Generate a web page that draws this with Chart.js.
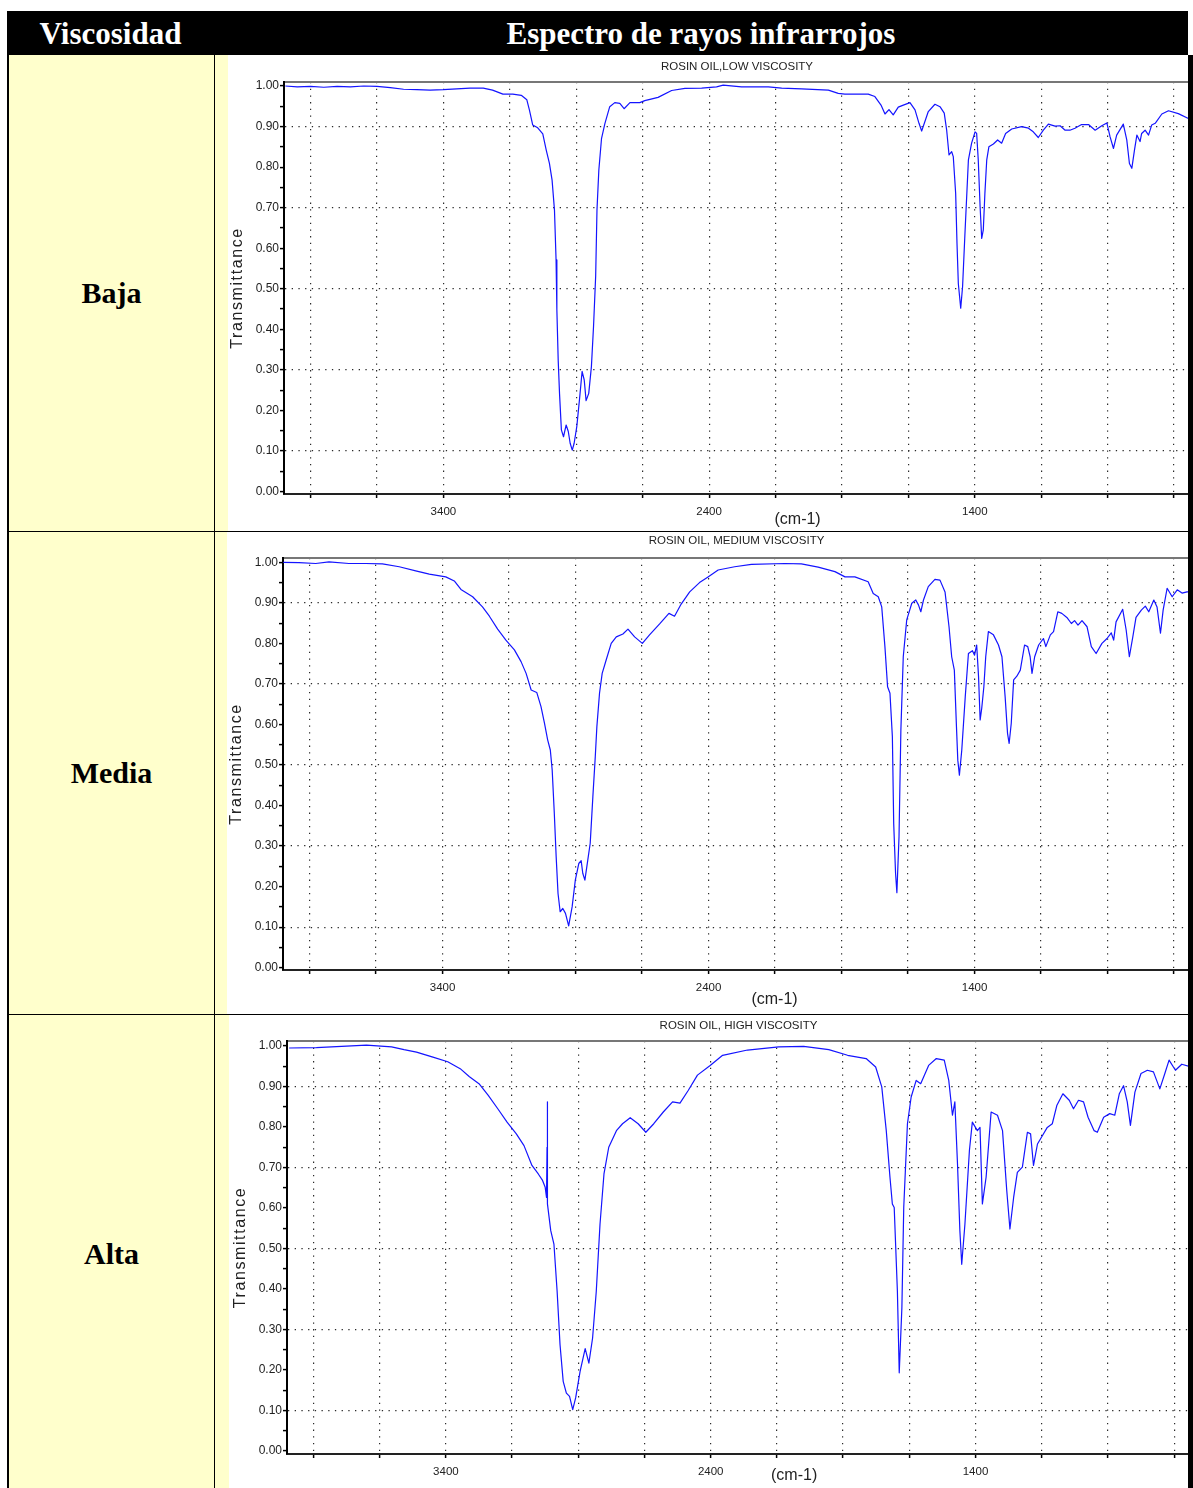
<!DOCTYPE html>
<html>
<head>
<meta charset="utf-8">
<title>Viscosidad - Espectro de rayos infrarrojos</title>
<script src="https://cdn.jsdelivr.net/npm/chart.js@4.4.1/dist/chart.umd.min.js"></script>
<style>
  body { margin: 0; background: #fff; }
  #page { position: relative; width: 1193px; height: 1488px; overflow: hidden; }
  .blk { position: absolute; background: #000; }
  .yel { position: absolute; background: #ffffcc; }
  .hd { position: absolute; top: 11px; height: 44px; color: #fff; text-align: center; overflow: hidden;
        font: bold 31px 'Liberation Serif', 'Times New Roman', serif; line-height: 45px; }
  .row { position: absolute; left: 9px; width: 205px; text-align: center; color: #000;
         font: bold 30px 'Liberation Serif', 'Times New Roman', serif; }
  canvas { position: absolute; background: #fff; }
</style>
</head>
<body>
<div id="page">
  <div class="yel" style="left:9px;top:55px;width:205px;height:1433px"></div>
  <div class="yel" style="left:215px;top:55px;width:973px;height:1433px"></div>

  <canvas id="low" width="962" height="476" style="left:228px;top:55px"></canvas>
  <canvas id="med" width="963" height="482" style="left:227px;top:532px"></canvas>
  <canvas id="high" width="961" height="473" style="left:229px;top:1015px"></canvas>

  <div class="blk" style="left:7px;top:11px;width:1181px;height:44px"></div>
  <div class="hd" style="left:7px;width:207px">Viscosidad</div>
  <div class="hd" style="left:214px;width:974px">Espectro de rayos infrarrojos</div>

  <div class="blk" style="left:7px;top:11px;width:2px;height:1477px"></div>
  <div class="blk" style="left:214px;top:55px;width:1px;height:1433px"></div>
  <div class="blk" style="left:7px;top:531px;width:1181px;height:1px"></div>
  <div class="blk" style="left:7px;top:1014px;width:1181px;height:1px"></div>
  <div class="blk" style="left:1188px;top:55px;width:5px;height:1433px"></div>

  <div class="row" style="top:55px;height:476px;line-height:476px">Baja</div>
  <div class="row" style="top:531px;height:483px;line-height:483px">Media</div>
  <div class="row" style="top:1014px;height:474px;line-height:480px">Alta</div>
</div>

<script>
// wavenumber axis (cm-1), drawn high to low
const xTicks = [3900, 3650, 3400, 3150, 2900, 2650, 2400, 2150, 1900, 1650, 1400, 1150, 900, 650];
const xLabels = [3400, 2400, 1400];
const yTicks = [0, 0.05, 0.1, 0.15, 0.2, 0.25, 0.3, 0.35, 0.4, 0.45, 0.5,
                0.55, 0.6, 0.65, 0.7, 0.75, 0.8, 0.85, 0.9, 0.95, 1.0];
const yGrid = [0.1, 0.3, 0.5, 0.7, 0.9];

// low viscosity
const lowWn = [3995, 3950, 3900, 3850, 3800, 3750, 3700, 3650, 3600, 3550, 3500, 3450, 3400, 3350, 3300, 3250,
  3215, 3176, 3139, 3107, 3086, 3076, 3064, 3045, 3026, 3013, 3001, 2991, 2982, 2976, 2973, 2968, 2963,
  2956, 2948, 2938, 2930, 2923, 2915, 2908, 2898, 2888, 2878, 2870, 2863, 2853, 2843, 2835, 2827, 2822,
  2815, 2805, 2792, 2774, 2755, 2736, 2720, 2698, 2661, 2642, 2592, 2541, 2491, 2428, 2372, 2347, 2278,
  2177, 2127, 2052, 1951, 1914, 1889, 1801, 1776, 1753, 1738, 1723, 1707, 1688, 1669, 1644, 1625, 1610,
  1600, 1590, 1575, 1550, 1531, 1515, 1506, 1497, 1487, 1481, 1472, 1467, 1462, 1453, 1446, 1437, 1424,
  1412, 1399, 1393, 1387, 1380, 1374, 1368, 1362, 1355, 1347, 1330, 1314, 1299, 1284, 1261, 1224, 1198,
  1180, 1161, 1142, 1123, 1098, 1079, 1060, 1042, 1023, 998, 972, 947, 922, 903, 891, 878, 866, 841, 828,
  818, 809, 799, 790, 778, 772, 759, 746, 734, 721, 696, 671, 634, 596, 577];
const lowT = [1.000, 0.998, 0.999, 0.997, 0.999, 0.998, 1.000, 0.999, 0.996, 0.992, 0.991, 0.990, 0.991, 0.993, 0.995, 0.995,
  0.990, 0.980, 0.980, 0.977, 0.966, 0.940, 0.904, 0.897, 0.882, 0.842, 0.809, 0.768, 0.694, 0.571, 0.448, 0.324, 0.242,
  0.152, 0.135, 0.164, 0.148, 0.119, 0.102, 0.119, 0.160, 0.226, 0.296, 0.275, 0.224, 0.242, 0.308, 0.407, 0.530, 0.694,
  0.793, 0.870, 0.908, 0.949, 0.959, 0.957, 0.944, 0.959, 0.959, 0.964, 0.972, 0.989, 0.994, 0.995, 0.998, 1.002, 0.998,
  0.998, 0.995, 0.993, 0.990, 0.982, 0.980, 0.980, 0.974, 0.953, 0.931, 0.942, 0.929, 0.948, 0.953, 0.959, 0.941, 0.908,
  0.889, 0.908, 0.937, 0.955, 0.949, 0.933, 0.892, 0.830, 0.838, 0.826, 0.735, 0.612, 0.513, 0.452, 0.505, 0.637, 0.818,
  0.859, 0.887, 0.883, 0.818, 0.702, 0.624, 0.645, 0.735, 0.818, 0.850, 0.857, 0.867, 0.859, 0.883, 0.894, 0.900, 0.896,
  0.887, 0.873, 0.891, 0.906, 0.901, 0.902, 0.891, 0.891, 0.896, 0.905, 0.905, 0.891, 0.902, 0.909, 0.875, 0.846, 0.879, 0.906, 0.867,
  0.809, 0.797, 0.842, 0.879, 0.863, 0.883, 0.891, 0.879, 0.904, 0.908, 0.931, 0.939, 0.932, 0.920, 0.915];

// medium viscosity
const medWn = [3999, 3940, 3877, 3827, 3752, 3689, 3626, 3563, 3501, 3450, 3388, 3356, 3331, 3287, 3250, 3224,
  3193, 3162, 3130, 3105, 3086, 3067, 3046, 3030, 3017, 3005, 2995, 2988, 2980, 2973, 2966, 2958, 2948,
  2938, 2926, 2913, 2901, 2888, 2879, 2873, 2865, 2854, 2845, 2835, 2826, 2820, 2810, 2800, 2785, 2766,
  2747, 2722, 2703, 2678, 2649, 2622, 2584, 2549, 2528, 2503, 2471, 2434, 2402, 2364, 2302, 2239, 2113,
  2051, 1988, 1925, 1887, 1850, 1800, 1781, 1762, 1749, 1737, 1727, 1718, 1709, 1704, 1697, 1692, 1684,
  1677, 1668, 1655, 1636, 1621, 1611, 1602, 1592, 1574, 1549, 1530, 1511, 1496, 1486, 1476, 1468, 1463,
  1457, 1448, 1435, 1423, 1408, 1400, 1392, 1385, 1379, 1373, 1365, 1358, 1348, 1329, 1310, 1297, 1285,
  1276, 1270, 1262, 1253, 1241, 1228, 1212, 1200, 1191, 1184, 1174, 1159, 1141, 1132, 1115, 1103, 1087,
  1072, 1053, 1036, 1024, 1011, 996, 977, 961, 943, 921, 902, 886, 877, 868, 843, 830, 818, 805, 793,
  773, 758, 745, 726, 714, 701, 691, 676, 657, 638, 620, 601, 576];
const medT = [1.000, 0.999, 0.997, 1.001, 0.997, 0.997, 0.996, 0.989, 0.979, 0.971, 0.964, 0.954, 0.933, 0.915, 0.890, 0.867,
  0.835, 0.808, 0.784, 0.755, 0.726, 0.685, 0.679, 0.644, 0.603, 0.562, 0.537, 0.488, 0.381, 0.274, 0.183, 0.138, 0.146,
  0.134, 0.103, 0.150, 0.216, 0.257, 0.264, 0.233, 0.216, 0.266, 0.307, 0.422, 0.520, 0.594, 0.677, 0.726, 0.759, 0.800,
  0.816, 0.823, 0.835, 0.816, 0.800, 0.821, 0.848, 0.874, 0.867, 0.897, 0.927, 0.950, 0.964, 0.981, 0.989, 0.995, 0.997,
  0.996, 0.988, 0.977, 0.964, 0.964, 0.952, 0.923, 0.915, 0.890, 0.792, 0.693, 0.677, 0.570, 0.356, 0.233, 0.185, 0.323,
  0.586, 0.767, 0.858, 0.899, 0.907, 0.895, 0.878, 0.907, 0.940, 0.958, 0.956, 0.927, 0.841, 0.767, 0.734, 0.594, 0.512,
  0.475, 0.537, 0.668, 0.775, 0.782, 0.771, 0.796, 0.718, 0.611, 0.640, 0.693, 0.767, 0.829, 0.821, 0.796, 0.767, 0.668,
  0.578, 0.553, 0.603, 0.710, 0.719, 0.734, 0.796, 0.792, 0.767, 0.726, 0.767, 0.796, 0.812, 0.792, 0.821, 0.829, 0.878,
  0.874, 0.864, 0.849, 0.856, 0.845, 0.856, 0.841, 0.792, 0.775, 0.800, 0.812, 0.826, 0.808, 0.853, 0.884, 0.833, 0.767, 0.816, 0.864,
  0.882, 0.892, 0.878, 0.907, 0.890, 0.825, 0.882, 0.936, 0.915, 0.932, 0.924, 0.927, 0.927];

// high viscosity
const highWn = [3992, 3889, 3794, 3700, 3605, 3558, 3511, 3452, 3393, 3346, 3311, 3275, 3240, 3204, 3169, 3134,
  3105, 3075, 3051, 3035, 3025, 3020, 3018, 3017, 3016, 3004, 2992, 2980, 2969, 2957, 2945, 2933, 2921,
  2910, 2893, 2874, 2860, 2846, 2832, 2818, 2803, 2785, 2756, 2733, 2704, 2674, 2645, 2615, 2579, 2544,
  2516, 2485, 2450, 2402, 2355, 2261, 2143, 2049, 1954, 1883, 1813, 1777, 1754, 1737, 1723, 1714, 1707,
  1695, 1688, 1678, 1671, 1657, 1643, 1624, 1607, 1577, 1548, 1518, 1501, 1487, 1478, 1468, 1459, 1452,
  1440, 1423, 1412, 1393, 1383, 1374, 1360, 1341, 1317, 1298, 1282, 1270, 1256, 1242, 1223, 1204, 1192,
  1181, 1166, 1147, 1129, 1110, 1093, 1070, 1046, 1030, 1011, 992, 975, 952, 940, 916, 893, 874, 857,
  841, 827, 815, 798, 775, 751, 728, 716, 704, 685, 669, 645, 621, 586];
const highT = [0.995, 0.996, 0.999, 1.002, 0.998, 0.991, 0.985, 0.973, 0.961, 0.944, 0.924, 0.907, 0.878, 0.845, 0.812, 0.783,
  0.754, 0.705, 0.684, 0.668, 0.651, 0.626, 0.750, 0.862, 0.610, 0.544, 0.511, 0.395, 0.263, 0.172, 0.143, 0.135, 0.102,
  0.131, 0.197, 0.253, 0.217, 0.279, 0.395, 0.560, 0.684, 0.750, 0.791, 0.808, 0.823, 0.808, 0.787, 0.808, 0.837, 0.862,
  0.859, 0.890, 0.928, 0.952, 0.977, 0.990, 0.998, 0.999, 0.991, 0.977, 0.969, 0.948, 0.899, 0.791, 0.676, 0.610, 0.601,
  0.395, 0.193, 0.354, 0.601, 0.808, 0.874, 0.915, 0.907, 0.952, 0.969, 0.965, 0.915, 0.829, 0.862, 0.709, 0.544, 0.461,
  0.560, 0.742, 0.812, 0.791, 0.799, 0.610, 0.676, 0.837, 0.829, 0.791, 0.643, 0.548, 0.626, 0.688, 0.701, 0.787, 0.783,
  0.705, 0.758, 0.779, 0.799, 0.808, 0.853, 0.882, 0.866, 0.845, 0.866, 0.862, 0.824, 0.791, 0.787, 0.824, 0.833, 0.829, 0.882,
  0.902, 0.862, 0.804, 0.886, 0.932, 0.940, 0.936, 0.915, 0.894, 0.932, 0.965, 0.940, 0.955, 0.948];

const sans = "'Liberation Sans', Arial, Helvetica, sans-serif";
const lineColor = '#1414ff';
const dotColor = '#2a2a2a';
const dots = [1.3, 5.4];

// rotated y title and the unit under the x axis
const axisLabels = {
  id: 'axisLabels',
  afterDraw(chart, args, o) {
    const { ctx, chartArea, scales } = chart;
    ctx.save();
    ctx.fillStyle = '#222';
    ctx.font = '16px ' + sans;
    ctx.textAlign = 'center';
    ctx.textBaseline = 'middle';
    ctx.letterSpacing = '1.6px';
    ctx.translate(o.titleX, (chartArea.top + chartArea.bottom) / 2);
    ctx.rotate(-Math.PI / 2);
    ctx.fillText('Transmittance', 0, 0);
    ctx.restore();

    ctx.save();
    ctx.fillStyle = '#222';
    ctx.font = '16px ' + sans;
    ctx.textAlign = 'center';
    ctx.textBaseline = 'middle';
    ctx.fillText('(cm-1)', scales.x.getPixelForValue(o.unitAt), chartArea.bottom + o.unitDy);
    ctx.restore();
  }
};

const isGrid = v => yGrid.some(g => Math.abs(g - v) < 1e-6);

function makeChart(id, title, wn, t, opt) {
  const points = wn.map((x, i) => ({ x: x, y: t[i] }));
  return new Chart(document.getElementById(id), {
    type: 'line',
    data: {
      datasets: [{
        data: points,
        borderColor: lineColor,
        borderWidth: 1.2,
        borderJoinStyle: 'round',
        pointRadius: 0,
        tension: 0,
        fill: false
      }]
    },
    options: {
      responsive: false,
      animation: false,
      devicePixelRatio: 1,
      layout: { padding: 0 },
      plugins: {
        legend: { display: false },
        tooltip: { enabled: false },
        title: {
          display: true,
          text: title,
          fullSize: false,
          color: '#222',
          font: { family: sans, size: 11.5, weight: 'normal', lineHeight: 1.2 },
          padding: { top: opt.titleTop, bottom: opt.titleBottom }
        },
        axisLabels: { unitAt: opt.unitAt, unitDy: opt.unitDy, titleX: opt.titleX }
      },
      scales: {
        x: {
          type: 'linear',
          reverse: true,
          min: 590,
          max: 4000,
          afterBuildTicks: s => { s.ticks = xTicks.map(v => ({ value: v })); },
          afterFit: s => { s.height = opt.xAxisH; s.paddingLeft = 0; s.paddingRight = 0; },
          ticks: {
            autoSkip: false,
            maxRotation: 0,
            padding: 7,
            color: '#222',
            font: { family: sans, size: 11.5 },
            callback: v => xLabels.includes(v) ? String(v) : ''
          },
          grid: { color: dotColor, lineWidth: 1.2, tickColor: '#000', tickLength: 4, tickWidth: 1.5 },
          border: { color: '#222', width: 2, dash: dots }
        },
        x2: {
          type: 'linear',
          position: 'top',
          reverse: true,
          min: 590,
          max: 4000,
          ticks: { display: false },
          grid: { display: false, drawTicks: false },
          border: { color: '#777', width: 2 },
          afterFit: s => { s.height = 0; }
        },
        y: {
          min: opt.yMin,
          max: opt.yMax,
          afterBuildTicks: s => { s.ticks = yTicks.map(v => ({ value: v })); },
          afterFit: s => { s.width = opt.yAxisW; s.paddingTop = 0; s.paddingBottom = 0; },
          ticks: {
            padding: 1,
            color: '#222',
            font: { family: sans, size: 12 },
            callback: v => Math.abs(v * 10 - Math.round(v * 10)) < 1e-6 ? v.toFixed(2) : ''
          },
          grid: {
            color: c => isGrid(c.tick.value) ? dotColor : 'rgba(0,0,0,0)',
            lineWidth: 1.2,
            tickColor: '#000',
            tickLength: 4,
            tickWidth: 1.5
          },
          border: { color: '#000', width: 2, dash: dots }
        }
      }
    },
    plugins: [axisLabels]
  });
}

makeChart('low', 'ROSIN OIL,LOW VISCOSITY', lowWn, lowT,
  { titleTop: 4.7, titleBottom: 8.5, xAxisH: 37, yAxisW: 56, titleX: 10,
    yMin: -0.0062, yMax: 1.0099, unitAt: 2067, unitDy: 26 });
makeChart('med', 'ROSIN OIL, MEDIUM VISCOSITY', medWn, medT,
  { titleTop: 2.1, titleBottom: 10.1, xAxisH: 44, yAxisW: 56, titleX: 9.5,
    yMin: -0.0057, yMax: 1.0106, unitAt: 2152, unitDy: 30 });
makeChart('high', 'ROSIN OIL, HIGH VISCOSITY', highWn, highT,
  { titleTop: 4.1, titleBottom: 8.1, xAxisH: 34, yAxisW: 58, titleX: 11.5,
    yMin: -0.0074, yMax: 1.0123, unitAt: 2085, unitDy: 22 });
</script>
</body>
</html>
